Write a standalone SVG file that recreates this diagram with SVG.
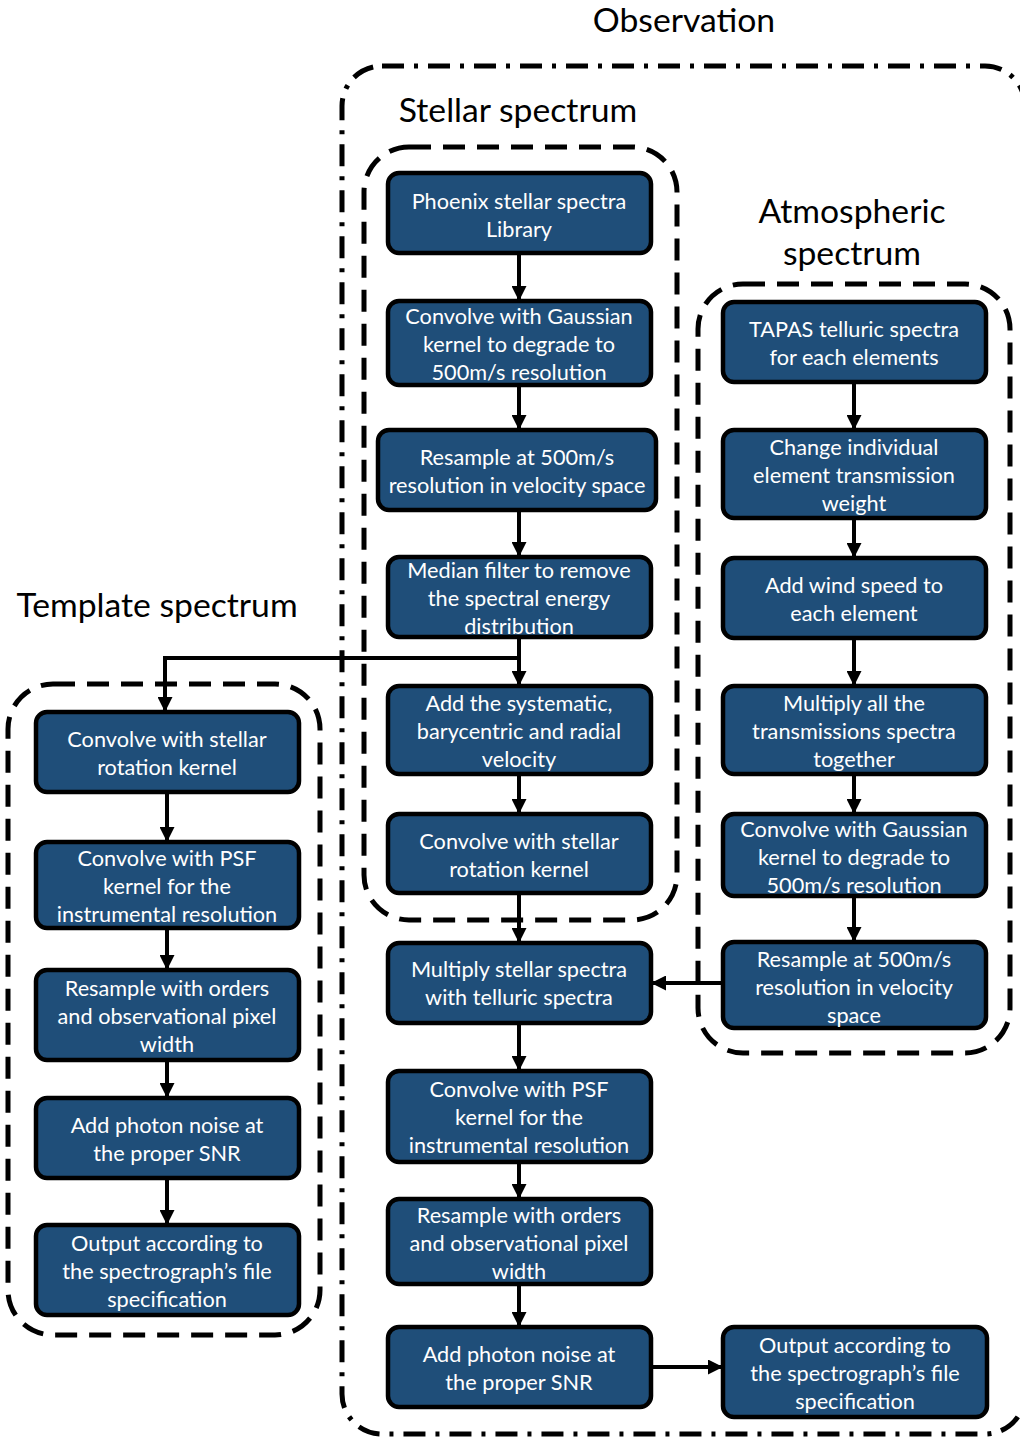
<svg xmlns="http://www.w3.org/2000/svg" width="1020" height="1437" viewBox="0 0 1020 1437">
<defs>
<style>
.node rect{fill:#1f4e79;stroke:#000;stroke-width:4.5}
.node text{fill:#fff;font-family:Lato,"Open Sans","Liberation Sans",sans-serif;font-size:21.7px;text-anchor:middle}
.title{fill:#000;font-family:Lato,"Open Sans","Liberation Sans",sans-serif;font-size:33.7px;text-anchor:middle}
.grp{fill:none;stroke:#000;stroke-width:5}
.dash{stroke-dasharray:22 12}
.dashdot{stroke-dasharray:22 10 4 10}
.conn line,.conn polyline{fill:none;stroke:#000;stroke-width:4;marker-end:url(#ah)}
</style>
<marker id="ah" viewBox="0 0 10 10" refX="10" refY="5" markerUnits="userSpaceOnUse" markerWidth="15" markerHeight="15" orient="auto">
<path d="M0,0 L10,5 L0,10 z" fill="#000"/>
</marker>
</defs>
<rect width="1020" height="1437" fill="#fff"/>
<g id="groups">
<rect class="grp dashdot" x="342" y="66" width="683" height="1368" rx="40"/>
<rect class="grp dash" x="364" y="147" width="313" height="773" rx="45"/>
<rect class="grp dash" x="698" y="284" width="312" height="769" rx="45"/>
<rect class="grp dash" x="8" y="684" width="312" height="651" rx="45"/>
</g>
<g id="titles">
<text class="title" x="684" y="32">Observation</text>
<text class="title" x="518" y="122">Stellar spectrum</text>
<text class="title" x="852" y="223">Atmospheric</text>
<text class="title" x="852" y="265">spectrum</text>
<text class="title" x="157" y="617">Template spectrum</text>
</g>
<g id="connectors" class="conn">
<line x1="519" y1="253" x2="519" y2="301"/>
<line x1="519" y1="385" x2="519" y2="430"/>
<line x1="519" y1="510" x2="519" y2="557"/>
<line x1="519" y1="637" x2="519" y2="686"/>
<polyline points="519,637 519,658 165,658 165,712"/>
<line x1="519" y1="774" x2="519" y2="814"/>
<line x1="519" y1="893" x2="519" y2="943"/>
<line x1="519" y1="1023" x2="519" y2="1071"/>
<line x1="519" y1="1162" x2="519" y2="1199"/>
<line x1="519" y1="1284" x2="519" y2="1327"/>
<line x1="651" y1="1367" x2="723" y2="1367"/>
<line x1="854" y1="382" x2="854" y2="430"/>
<line x1="854" y1="518" x2="854" y2="558"/>
<line x1="854" y1="638" x2="854" y2="686"/>
<line x1="854" y1="774" x2="854" y2="814"/>
<line x1="854" y1="896" x2="854" y2="942"/>
<line x1="723" y1="983" x2="651" y2="983"/>
<line x1="167" y1="792" x2="167" y2="842"/>
<line x1="167" y1="928" x2="167" y2="970"/>
<line x1="167" y1="1060" x2="167" y2="1098"/>
<line x1="167" y1="1178" x2="167" y2="1225"/>
</g>
<g id="n1" class="node"><rect x="388" y="173" width="263" height="80" rx="11"/><text x="519" y="209">Phoenix stellar spectra</text><text x="519" y="237">Library</text></g>
<g id="n2" class="node"><rect x="388" y="301" width="263" height="84" rx="11"/><text x="519" y="324">Convolve with Gaussian</text><text x="519" y="352">kernel to degrade to</text><text x="519" y="380">500m/s resolution</text></g>
<g id="n3" class="node"><rect x="378" y="430" width="278" height="80" rx="11"/><text x="517" y="465">Resample at 500m/s</text><text x="517" y="493">resolution in velocity space</text></g>
<g id="n4" class="node"><rect x="388" y="557" width="263" height="80" rx="11"/><text x="519" y="578">Median filter to remove</text><text x="519" y="606">the spectral energy</text><text x="519" y="634">distribution</text></g>
<g id="n5" class="node"><rect x="388" y="686" width="263" height="88" rx="11"/><text x="519" y="711">Add the systematic,</text><text x="519" y="739">barycentric and radial</text><text x="519" y="767">velocity</text></g>
<g id="n6" class="node"><rect x="388" y="814" width="263" height="79" rx="11"/><text x="519" y="849">Convolve with stellar</text><text x="519" y="877">rotation kernel</text></g>
<g id="n7" class="node"><rect x="388" y="943" width="263" height="80" rx="11"/><text x="519" y="977">Multiply stellar spectra</text><text x="519" y="1005">with telluric spectra</text></g>
<g id="n8" class="node"><rect x="388" y="1071" width="263" height="91" rx="11"/><text x="519" y="1097">Convolve with PSF</text><text x="519" y="1125">kernel for the</text><text x="519" y="1153">instrumental resolution</text></g>
<g id="n9" class="node"><rect x="388" y="1199" width="263" height="85" rx="11"/><text x="519" y="1223">Resample with orders</text><text x="519" y="1251">and observational pixel</text><text x="519" y="1279">width</text></g>
<g id="n10" class="node"><rect x="388" y="1327" width="263" height="80" rx="11"/><text x="519" y="1362">Add photon noise at</text><text x="519" y="1390">the proper SNR</text></g>
<g id="n11" class="node"><rect x="723" y="1327" width="264" height="90" rx="11"/><text x="855" y="1353">Output according to</text><text x="855" y="1381">the spectrograph’s file</text><text x="855" y="1409">specification</text></g>
<g id="a1" class="node"><rect x="723" y="302" width="263" height="80" rx="11"/><text x="854" y="337">TAPAS telluric spectra</text><text x="854" y="365">for each elements</text></g>
<g id="a2" class="node"><rect x="723" y="430" width="263" height="88" rx="11"/><text x="854" y="455">Change individual</text><text x="854" y="483">element transmission</text><text x="854" y="511">weight</text></g>
<g id="a3" class="node"><rect x="723" y="558" width="263" height="80" rx="11"/><text x="854" y="593">Add wind speed to</text><text x="854" y="621">each element</text></g>
<g id="a4" class="node"><rect x="723" y="686" width="263" height="88" rx="11"/><text x="854" y="711">Multiply all the</text><text x="854" y="739">transmissions spectra</text><text x="854" y="767">together</text></g>
<g id="a5" class="node"><rect x="723" y="814" width="263" height="82" rx="11"/><text x="854" y="837">Convolve with Gaussian</text><text x="854" y="865">kernel to degrade to</text><text x="854" y="893">500m/s resolution</text></g>
<g id="a6" class="node"><rect x="723" y="942" width="263" height="86" rx="11"/><text x="854" y="967">Resample at 500m/s</text><text x="854" y="995">resolution in velocity</text><text x="854" y="1023">space</text></g>
<g id="t1" class="node"><rect x="36" y="712" width="263" height="80" rx="11"/><text x="167" y="747">Convolve with stellar</text><text x="167" y="775">rotation kernel</text></g>
<g id="t2" class="node"><rect x="36" y="842" width="263" height="86" rx="11"/><text x="167" y="866">Convolve with PSF</text><text x="167" y="894">kernel for the</text><text x="167" y="922">instrumental resolution</text></g>
<g id="t3" class="node"><rect x="36" y="970" width="263" height="90" rx="11"/><text x="167" y="996">Resample with orders</text><text x="167" y="1024">and observational pixel</text><text x="167" y="1052">width</text></g>
<g id="t4" class="node"><rect x="36" y="1098" width="263" height="80" rx="11"/><text x="167" y="1133">Add photon noise at</text><text x="167" y="1161">the proper SNR</text></g>
<g id="t5" class="node"><rect x="36" y="1225" width="263" height="90" rx="11"/><text x="167" y="1251">Output according to</text><text x="167" y="1279">the spectrograph’s file</text><text x="167" y="1307">specification</text></g>
</svg>
